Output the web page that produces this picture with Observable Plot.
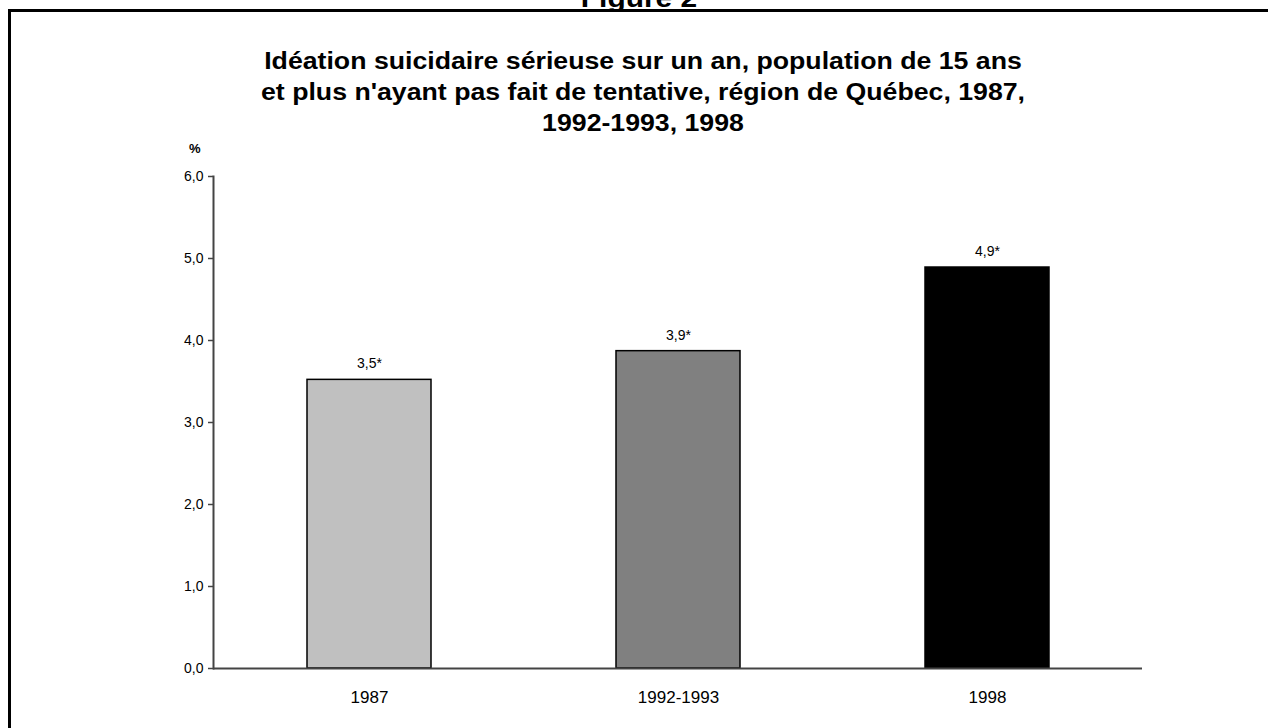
<!DOCTYPE html>
<html><head><meta charset="utf-8">
<script src="https://cdn.jsdelivr.net/npm/d3@7"></script>
<script src="https://cdn.jsdelivr.net/npm/@observablehq/plot@0.6"></script>
<style>
html,body{margin:0;padding:0;background:#fff;overflow:hidden;}
body{width:1268px;height:728px;position:relative;font-family:"Liberation Sans",Arial,sans-serif;color:#000;}
#box{position:absolute;left:8px;top:9px;width:1300px;height:800px;border:3px solid #000;box-sizing:border-box;z-index:3;pointer-events:none;}
#fig{position:absolute;left:5px;width:1268px;top:-15px;text-align:center;font-weight:bold;font-size:26px;line-height:26px;transform:scaleX(1.15);}
#title{position:absolute;left:9px;width:1268px;top:46px;text-align:center;font-weight:bold;font-size:23px;line-height:31px;transform:scaleX(1.16);}
#pct{position:absolute;left:189px;top:141px;font-weight:bold;font-size:13px;line-height:16px;z-index:2;}
#chart{position:absolute;left:0;top:150px;z-index:1;}
</style></head>
<body>
<div id="box"></div>
<div id="fig">Figure 2</div>
<div id="title">Idéation suicidaire sérieuse sur un an, population de 15 ans<br>et plus n'ayant pas fait de tentative, région de Québec, 1987,<br>1992-1993, 1998</div>
<div id="pct">%</div>
<div id="chart"></div>
<script>
const categories = ["1987", "1992-1993", "1998"];
const values = [3.52, 3.87, 4.89];
const valueLabels = ["3,5*", "3,9*", "4,9*"];
const barColors = ["#c0c0c0", "#808080", "#000000"];
const yTicks = [0, 1, 2, 3, 4, 5, 6];

const data = categories.map((c, i) => ({cat: c, value: values[i], label: valueLabels[i], fill: barColors[i]}));
const fmt = d => d.toFixed(1).replace(".", ",");

const chart = Plot.plot({
  width: 1268,
  height: 560,
  marginLeft: 213,
  marginRight: 126,
  marginTop: 26,
  marginBottom: 42,
  style: {fontFamily: "Liberation Sans, Arial, sans-serif", color: "#000", background: "transparent", overflow: "visible"},
  x: {domain: categories, paddingInner: 0.6, paddingOuter: 0.3, label: null},
  y: {domain: [0, 6], label: null},
  color: {type: "identity"},
  marks: [
    Plot.barY(data, {x: "cat", y: "value", fill: "fill", stroke: "#000", strokeWidth: 1.5}),
    Plot.text(data, {x: "cat", y: "value", text: "label", dy: -16, fontSize: 14, fill: "#000"}),
    Plot.axisY({ticks: yTicks, tickFormat: fmt, tickSize: 5, tickPadding: 5, fontSize: 14, stroke: "#444", strokeWidth: 1.5, label: null}),
    Plot.axisX({tickSize: 0, tickPadding: 22, fontSize: 17, label: null}),
    Plot.ruleY([0], {stroke: "#444", strokeWidth: 2}),
    Plot.frame({anchor: "left", stroke: "#444", strokeWidth: 2})
  ]
});
document.getElementById("chart").appendChild(chart);
</script>
</body></html>
